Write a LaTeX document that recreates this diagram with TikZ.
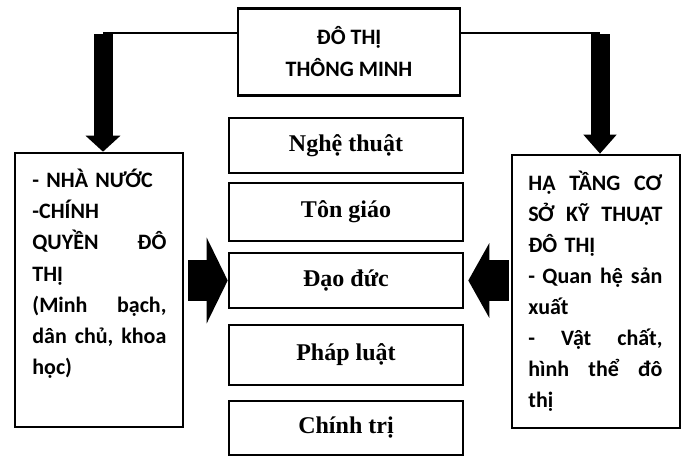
\documentclass[tikz,border=0pt]{standalone}
\usepackage{fontspec}
\setmainfont{Liberation Serif}
\newfontfamily\vnsans{Carlito}
\usetikzlibrary{arrows.meta}

\begin{document}
\begin{tikzpicture}[x=1pt,y=-1pt,thick,
	box/.style={draw,line width=2.6pt,inner sep=0pt},
	midbox/.style={box,minimum width=234pt,font=\bfseries\fontsize{24}{28}\selectfont},
	sidebox/.style={box,minimum width=168pt},
	sidetext/.style={inner sep=0pt,anchor=base west,text width=134pt,align=left,
		font=\vnsans\bfseries\fontsize{22}{31}\selectfont},
	link/.style={line width=2.6pt},
	downarrow/.style={line width=19pt},
	sidearrow/.style={line width=41pt}]
	\useasboundingbox (0,0) rectangle (690,457);

	\node[box,minimum width=222pt,minimum height=87pt,align=center,
		font=\vnsans\bfseries\fontsize{22}{32}\selectfont] (dttm) at (349,52)
		{ĐÔ THỊ\\THÔNG MINH};

	\begin{scope}[every node/.style={midbox}]
	\node[minimum height=55pt] (ngt) at (346,145.5) {Nghệ thuật};
	\node[minimum height=58pt] (tg) at (346,212) {Tôn giáo};
	\node[minimum height=55pt] (dd) at (346,280.5) {Đạo đức};
	\node[minimum height=60pt] (pl) at (346,355) {Pháp luật};
	\node[minimum height=54pt] (ct) at (346,428) {Chính trị};
	\end{scope}

	\node[sidebox,minimum height=274pt] (nn) at (99,290) {};
	\node[sidetext] (nntext) at (32,188)
		{- NHÀ NƯỚC\\-CHÍNH\\QUYỀN\hfill ĐÔ\\THỊ\\(Minh\hfill bạch,\\dân\hfill chủ,\hfill khoa\\học)};
	\node[sidebox,minimum height=273pt] (ht) at (596,291.5) {};
	\node[sidetext] (httext) at (528,190)
		{HẠ\hfill TẦNG\hfill CƠ\\SỞ\hfill KỸ\hfill THUẬT\\ĐÔ THỊ\\- Quan\hfill hệ\hfill sản\\xuất\\-\hfill Vật\hfill chất,\\hình\hfill thể\hfill đô\\thị};

	\coordinate (lc) at (103,33);
	\coordinate (rc) at (600,33);
	\draw[link] (dttm.west |- lc) -- (lc);
	\draw[link] (dttm.east |- rc) -- (rc);
	\draw[downarrow,-{Triangle[width=34pt,length=16pt]}] ([yshift=-1.3pt]lc) -- (nn.north -| lc);
	\draw[downarrow,-{Triangle[width=32pt,length=19pt]}] ([yshift=-1.3pt]rc) -- (ht.north -| rc);
	\draw[sidearrow,-{Triangle[width=85pt,length=21pt]},shorten <=4pt] (nn.east |- dd.west) -- (dd.west);
	\draw[sidearrow,-{Triangle[width=74pt,length=21pt]},shorten <=2pt,shorten >=4pt] (ht.west |- dd.east) -- (dd.east);
\end{tikzpicture}
\end{document}
